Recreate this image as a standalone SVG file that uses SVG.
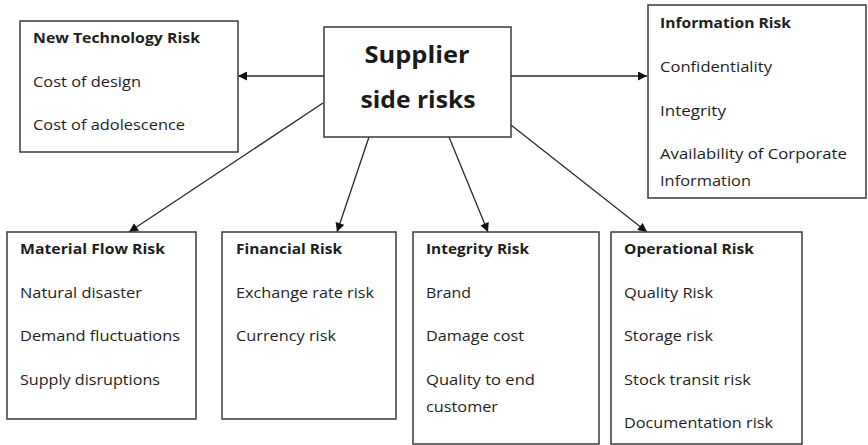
<svg xmlns="http://www.w3.org/2000/svg" width="868" height="445" viewBox="0 0 868 445">
  <style>
    .box { fill: #ffffff; stroke: #3a3a3a; stroke-width: 1.5; }
    .txt { font-family: "Open Sans", "Liberation Sans", sans-serif; font-size: 15px; fill: #1e1e1e; }
    .hd { font-weight: bold; }
    .big { font-family: "Open Sans", "Liberation Sans", sans-serif; font-size: 24px; font-weight: bold; fill: #1a1a1a; text-anchor: middle; }
    .link { stroke: #2a2a2a; stroke-width: 1.3; fill: none; marker-end: url(#arrow); }
  </style>
  <defs>
    <marker id="arrow" viewBox="0 0 10 10" refX="10" refY="5" markerWidth="10" markerHeight="9" markerUnits="userSpaceOnUse" orient="auto">
      <path d="M0,0 L10,5 L0,10 z" fill="#111111"/>
    </marker>
  </defs>
  <rect width="868" height="445" fill="#ffffff"/>

  <g id="connectors">
    <line class="link" x1="324" y1="76" x2="238" y2="76"/>
    <line class="link" x1="511" y1="76" x2="647" y2="76"/>
    <line class="link" x1="323" y1="103" x2="129" y2="232"/>
    <line class="link" x1="369" y1="137" x2="337" y2="232"/>
    <line class="link" x1="449" y1="137" x2="488" y2="232"/>
    <line class="link" x1="511" y1="125" x2="647" y2="232"/>
  </g>

  <g id="supplier-side-risks">
    <rect class="box" x="324" y="27" width="187" height="110"/>
    <text class="big" x="417" y="63" textLength="105" lengthAdjust="spacingAndGlyphs">Supplier</text>
    <text class="big" x="418" y="108" textLength="115" lengthAdjust="spacingAndGlyphs">side risks</text>
  </g>

  <g id="new-technology-risk">
    <rect class="box" x="20" y="21" width="218" height="131"/>
    <text class="txt hd" x="33" y="43" textLength="167" lengthAdjust="spacingAndGlyphs">New Technology Risk</text>
    <text class="txt" x="33" y="87" textLength="108" lengthAdjust="spacingAndGlyphs">Cost of design</text>
    <text class="txt" x="33" y="130" textLength="152" lengthAdjust="spacingAndGlyphs">Cost of adolescence</text>
  </g>

  <g id="information-risk">
    <rect class="box" x="648" y="5" width="218" height="193"/>
    <text class="txt hd" x="660" y="28" textLength="131" lengthAdjust="spacingAndGlyphs">Information Risk</text>
    <text class="txt" x="660" y="72" textLength="112" lengthAdjust="spacingAndGlyphs">Confidentiality</text>
    <text class="txt" x="660" y="115.5" textLength="66" lengthAdjust="spacingAndGlyphs">Integrity</text>
    <text class="txt" x="660" y="159" textLength="187" lengthAdjust="spacingAndGlyphs">Availability of Corporate</text>
    <text class="txt" x="660" y="185.5" textLength="91" lengthAdjust="spacingAndGlyphs">Information</text>
  </g>

  <g id="material-flow-risk">
    <rect class="box" x="7" y="232" width="189" height="187"/>
    <text class="txt hd" x="20" y="254" textLength="145" lengthAdjust="spacingAndGlyphs">Material Flow Risk</text>
    <text class="txt" x="20" y="297.5" textLength="122" lengthAdjust="spacingAndGlyphs">Natural disaster</text>
    <text class="txt" x="20" y="341" textLength="160" lengthAdjust="spacingAndGlyphs">Demand fluctuations</text>
    <text class="txt" x="20" y="384.5" textLength="140" lengthAdjust="spacingAndGlyphs">Supply disruptions</text>
  </g>

  <g id="financial-risk">
    <rect class="box" x="222" y="232" width="174" height="187"/>
    <text class="txt hd" x="236" y="254" textLength="106" lengthAdjust="spacingAndGlyphs">Financial Risk</text>
    <text class="txt" x="236" y="297.5" textLength="138" lengthAdjust="spacingAndGlyphs">Exchange rate risk</text>
    <text class="txt" x="236" y="341" textLength="100" lengthAdjust="spacingAndGlyphs">Currency risk</text>
  </g>

  <g id="integrity-risk">
    <rect class="box" x="413" y="232" width="186" height="212"/>
    <text class="txt hd" x="426" y="254" textLength="103" lengthAdjust="spacingAndGlyphs">Integrity Risk</text>
    <text class="txt" x="426" y="297.5" textLength="45" lengthAdjust="spacingAndGlyphs">Brand</text>
    <text class="txt" x="426" y="341" textLength="98" lengthAdjust="spacingAndGlyphs">Damage cost</text>
    <text class="txt" x="426" y="384.5" textLength="109" lengthAdjust="spacingAndGlyphs">Quality to end</text>
    <text class="txt" x="426" y="412" textLength="72" lengthAdjust="spacingAndGlyphs">customer</text>
  </g>

  <g id="operational-risk">
    <rect class="box" x="611" y="232" width="191" height="212"/>
    <text class="txt hd" x="624" y="254" textLength="130" lengthAdjust="spacingAndGlyphs">Operational Risk</text>
    <text class="txt" x="624" y="297.5" textLength="89" lengthAdjust="spacingAndGlyphs">Quality Risk</text>
    <text class="txt" x="624" y="341" textLength="89" lengthAdjust="spacingAndGlyphs">Storage risk</text>
    <text class="txt" x="624" y="384.5" textLength="127" lengthAdjust="spacingAndGlyphs">Stock transit risk</text>
    <text class="txt" x="624" y="428" textLength="149" lengthAdjust="spacingAndGlyphs">Documentation risk</text>
  </g>
</svg>
